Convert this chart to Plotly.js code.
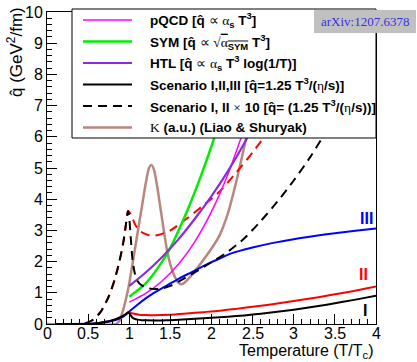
<!DOCTYPE html>
<html>
<head>
<meta charset="utf-8">
<script src="https://cdn.plot.ly/plotly-3.0.1.min.js"></script>
<style>html,body{margin:0;padding:0;background:#fff;}</style>
</head>
<body>
<div id="chart" style="width:417px;height:362px;"></div>
<script>
// ---- Data ----
// Scenario I x10 (black dashed)
const T_scen1x10 = [0.1, 0.3, 0.45, 0.55, 0.65, 0.75, 0.82, 0.88, 0.93, 0.96, 0.985, 1.0, 1.02, 1.04, 1.07, 1.1, 1.15, 1.2, 1.3, 1.4, 1.5, 1.6, 1.8, 2.0, 2.2, 2.4, 2.6, 2.8, 3.0, 3.2, 3.4, 3.6, 3.8, 4.0];
const q_scen1x10 = [0, 0, 0.01, 0.12, 0.38, 0.88, 1.4, 2.0, 2.65, 3.2, 3.62, 3.4, 2.7, 2.05, 1.6, 1.38, 1.24, 1.17, 1.12, 1.14, 1.22, 1.36, 1.66, 1.98, 2.32, 2.75, 3.3, 3.92, 4.6, 5.35, 6.2, 7.1, 8.05, 9.05];
// Scenario I (black solid)
const T_scen1 = [0.1, 0.3, 0.45, 0.55, 0.65, 0.75, 0.82, 0.88, 0.93, 0.96, 0.985, 1.0, 1.02, 1.04, 1.07, 1.1, 1.15, 1.2, 1.3, 1.4, 1.5, 1.6, 1.8, 2.0, 2.2, 2.4, 2.6, 2.8, 3.0, 3.2, 3.4, 3.6, 3.8, 4.0];
const q_scen1 = [0, 0, 0.002, 0.012, 0.04, 0.09, 0.14, 0.2, 0.27, 0.32, 0.37, 0.34, 0.27, 0.2, 0.16, 0.14, 0.124, 0.117, 0.112, 0.114, 0.122, 0.136, 0.166, 0.198, 0.232, 0.275, 0.33, 0.392, 0.46, 0.535, 0.62, 0.71, 0.805, 0.905];
// Scenario II x10 (red dashed)
const T_scen2x10 = [0.1, 0.3, 0.45, 0.55, 0.65, 0.75, 0.82, 0.88, 0.93, 0.96, 0.985, 1.0, 1.03, 1.07, 1.12, 1.2, 1.27, 1.35, 1.5, 1.7, 1.9, 2.1, 2.3, 2.5, 2.7, 2.9, 3.1, 3.3, 3.5, 3.7];
const q_scen2x10 = [0, 0, 0.01, 0.12, 0.38, 0.88, 1.4, 2.0, 2.65, 3.2, 3.62, 3.6, 3.45, 3.2, 3.0, 2.88, 2.83, 2.85, 3.0, 3.38, 3.8, 4.25, 4.85, 5.5, 6.2, 6.95, 7.75, 8.6, 9.5, 10.4];
// Scenario II (red solid)
const T_scen2 = [0.1, 0.3, 0.45, 0.55, 0.65, 0.75, 0.82, 0.88, 0.93, 0.96, 0.985, 1.0, 1.03, 1.07, 1.12, 1.2, 1.3, 1.5, 1.7, 1.9, 2.1, 2.3, 2.5, 2.7, 2.9, 3.1, 3.3, 3.5, 3.7, 4.0];
const q_scen2 = [0, 0, 0.002, 0.012, 0.04, 0.09, 0.14, 0.2, 0.27, 0.32, 0.37, 0.36, 0.345, 0.32, 0.3, 0.29, 0.284, 0.3, 0.338, 0.38, 0.425, 0.485, 0.55, 0.62, 0.695, 0.775, 0.86, 0.95, 1.04, 1.2];
// Scenario III (blue solid)
const T_scen3 = [0.1, 0.3, 0.5, 0.6, 0.7, 0.8, 0.9, 0.95, 1.0, 1.1, 1.2, 1.3, 1.4, 1.5, 1.6, 1.75, 2.0, 2.1, 2.25, 2.5, 2.75, 3.0, 3.25, 3.5, 3.75, 4.0];
const q_scen3 = [0, 0, 0.005, 0.02, 0.05, 0.1, 0.2, 0.28, 0.4, 0.62, 0.82, 1.0, 1.15, 1.3, 1.45, 1.65, 1.98, 2.1, 2.27, 2.45, 2.6, 2.72, 2.82, 2.91, 2.99, 3.06];
// pQCD (magenta)
const T_pqcd = [1.0, 1.2, 1.4, 1.6, 1.8, 2.0, 2.2, 2.35, 2.5, 2.7, 2.9];
const q_pqcd = [0.7, 0.98, 1.38, 1.92, 2.65, 3.6, 4.8, 5.9, 7.0, 8.6, 10.4];
// SYM (green)
const T_sym = [1.0, 1.2, 1.4, 1.5, 1.6, 1.7, 1.8, 1.9, 2.0, 2.1, 2.3, 2.5];
const q_sym = [0.87, 1.3, 2.0, 2.45, 3.0, 3.6, 4.25, 4.95, 5.7, 6.5, 8.3, 10.4];
// HTL (purple)
const T_htl = [1.0, 1.2, 1.4, 1.6, 1.8, 2.0, 2.2, 2.4, 2.6, 2.8, 3.0, 3.2];
const q_htl = [1.22, 1.65, 2.15, 2.72, 3.38, 4.1, 4.9, 5.8, 6.8, 7.9, 9.1, 10.4];
// K (a.u.) Liao & Shuryak (brown)
const T_kappa = [0, 0.84, 0.88, 0.92, 0.96, 1.0, 1.05, 1.1, 1.15, 1.2, 1.24, 1.27, 1.3, 1.34, 1.38, 1.42, 1.46, 1.5, 1.54, 1.58, 1.62, 1.66, 1.72, 1.8, 1.9, 2.0, 2.1, 2.2, 2.3, 2.4, 2.5, 2.6, 2.7];
const q_kappa = [0, 0, 0.1, 0.4, 0.8, 1.3, 2.1, 2.9, 3.7, 4.5, 5.0, 5.1, 4.95, 4.4, 3.7, 3.0, 2.35, 1.9, 1.6, 1.38, 1.28, 1.3, 1.45, 1.7, 2.05, 2.42, 2.85, 3.55, 4.55, 5.7, 6.9, 8.2, 9.6];

const xTickVals = [0, 0.5, 1, 1.5, 2, 2.5, 3, 3.5, 4];
const xTickText = ['0', '0.5', '1', '1.5', '2', '2.5', '3', '3.5', '4'];
const yTickVals = [0, 1, 2, 3, 4, 5, 6, 7, 8, 9, 10];

const sf = (s) => '<span style="font-family:Liberation Serif;font-weight:normal">' + s + '</span>';
const legendLabels = [
  'pQCD [q̂ ' + sf('∝') + ' ' + sf('α') + '<sub>s</sub> T<sup>3</sup>]',
  'SYM [q̂ ' + sf('∝') + ' ' + sf('√') + '<span style="text-decoration:overline">' + sf('α') + '<sub>SYM</sub></span> T<sup>3</sup>]',
  'HTL [q̂ ' + sf('∝') + ' ' + sf('α') + '<sub>s</sub> T<sup>3</sup> log(1/T)]',
  'Scenario I,II,III [q̂=1.25 T<sup>3</sup>/(' + sf('η') + '/s)]',
  'Scenario I, II ' + sf('×') + ' 10 [q̂= (1.25 T<sup>3</sup>/(' + sf('η') + '/s))]',
  sf('Κ') + ' (a.u.) (Liao &amp; Shuryak)'
];
const legendColors = ['#ff00ff', '#00ee00', '#8a2be2', '#000000', '#000000', '#b8877c'];
const legendDash = ['solid', 'solid', 'solid', 'solid', '9px,6px', 'solid'];
const legendWidth = [1.5, 2.5, 2.2, 2, 2, 2.5];

// ---- Traces ----
function tr(x, y, color, width, dash) {
  return {x: x, y: y, type: 'scatter', mode: 'lines', hoverinfo: 'skip',
    line: {color: color, width: width, dash: dash || 'solid', shape: 'spline', smoothing: 0.7}};
}
const data = [
  tr(T_kappa, q_kappa, '#b8877c', 2.5),
  tr(T_scen2x10, q_scen2x10, '#ff0000', 2, '9px,6px'),
  tr(T_scen2, q_scen2, '#ff0000', 2),
  tr(T_scen3, q_scen3, '#0000ff', 2),
  tr(T_scen1, q_scen1, '#000000', 2),
  tr(T_pqcd, q_pqcd, '#ff00ff', 1.5),
  tr(T_sym, q_sym, '#00ee00', 2.5),
  tr(T_htl, q_htl, '#8a2be2', 2.2),
  tr(T_scen1x10, q_scen1x10, '#000000', 2, '9px,6px')
];

// ---- Layout ----
const W = 417, H = 362, ML = 47, MR = 41, MT = 12, MB = 38;
const PW = W - ML - MR, PH = H - MT - MB;
const px = (p) => (p - ML) / PW;   // pixel -> paper x
const py = (p) => (H - MB - p) / PH; // pixel -> paper y
const FONT = 'Liberation Sans, Arial, sans-serif';

const shapes = [];
const annotations = [];
// legend box
shapes.push({type: 'rect', xref: 'paper', yref: 'paper', layer: 'above',
  x0: px(72), x1: px(376), y0: py(138), y1: py(9),
  fillcolor: '#ffffff', line: {color: '#000000', width: 1}});
const rowY = [20, 41.5, 63, 84.5, 106, 127.5];
legendLabels.forEach((lab, i) => {
  shapes.push({type: 'line', xref: 'paper', yref: 'paper', layer: 'above',
    x0: px(83), x1: px(132), y0: py(rowY[i]), y1: py(rowY[i]),
    line: {color: legendColors[i], width: legendWidth[i], dash: legendDash[i]}});
  annotations.push({xref: 'paper', yref: 'paper', x: px(148), y: py(rowY[i]),
    xanchor: 'left', yanchor: 'middle', showarrow: false, text: lab,
    font: {family: FONT, size: 13.5, weight: 'bold', color: '#000000'}});
});
// arXiv tag
shapes.push({type: 'rect', xref: 'paper', yref: 'paper', layer: 'above',
  x0: px(314), x1: px(416), y0: py(33), y1: py(10),
  fillcolor: '#c0c0c0', line: {width: 0}});
annotations.push({xref: 'paper', yref: 'paper', x: px(365), y: py(21.5),
  xanchor: 'center', yanchor: 'middle', showarrow: false, text: 'arXiv:1207.6378',
  font: {family: 'Liberation Serif, serif', size: 13, color: '#3333dd'}});
// Scenario labels
annotations.push({xref: 'x', yref: 'y', x: 3.89, y: 3.39, showarrow: false, text: '<b>III</b>',
  font: {family: FONT, size: 16, color: '#0000ff'}});
annotations.push({xref: 'x', yref: 'y', x: 3.85, y: 1.6, showarrow: false, text: '<b>II</b>',
  font: {family: FONT, size: 16, color: '#ff0000'}});
annotations.push({xref: 'x', yref: 'y', x: 3.87, y: 0.42, showarrow: false, text: '<b>I</b>',
  font: {family: FONT, size: 16, color: '#000000'}});
// x tick labels placed close to the axis, as in the original
xTickVals.forEach((v, i) => {
  annotations.push({xref: 'x', yref: 'paper', x: v, y: py(333.5), xanchor: 'center', yanchor: 'middle',
    showarrow: false, text: xTickText[i], font: {family: FONT, size: 16, color: '#000000'}});
});
// axis titles (right/top aligned like the original)
annotations.push({xref: 'paper', yref: 'paper', x: px(376), y: py(352),
  xanchor: 'right', yanchor: 'middle', showarrow: false,
  text: 'Temperature (T/T<sub>c</sub>)',
  font: {family: FONT, size: 16, color: '#000000'}});
annotations.push({xref: 'paper', yref: 'paper', x: px(15), y: py(5),
  xanchor: 'center', yanchor: 'top', textangle: -90, showarrow: false,
  text: 'q̂ (GeV<sup>2</sup>/fm)',
  font: {family: FONT, size: 17, color: '#000000'}});

const axisCommon = {
  ticks: 'inside', ticklen: 10, tickwidth: 1, tickcolor: '#000000',
  showline: true, linecolor: '#000000', linewidth: 1, mirror: true,
  showgrid: false, zeroline: false,
  tickfont: {family: FONT, size: 16, color: '#000000'}
};
const layout = {
  width: W, height: H,
  margin: {l: ML, r: MR, t: MT, b: MB, pad: 0},
  paper_bgcolor: '#ffffff', plot_bgcolor: '#ffffff',
  showlegend: false,
  xaxis: Object.assign({}, axisCommon, {range: [0, 4], tickmode: 'array', tickvals: xTickVals,
    showticklabels: false,
    minor: {dtick: 0.1, tick0: 0, ticks: 'inside', ticklen: 5, tickcolor: '#000000', showgrid: false}}),
  yaxis: Object.assign({}, axisCommon, {range: [0, 10], tickmode: 'array', tickvals: yTickVals,
    minor: {dtick: 0.2, tick0: 0, ticks: 'inside', ticklen: 5, tickcolor: '#000000', showgrid: false}}),
  shapes: shapes,
  annotations: annotations
};

Plotly.newPlot('chart', data, layout, {staticPlot: true, displayModeBar: false});
</script>
</body>
</html>
